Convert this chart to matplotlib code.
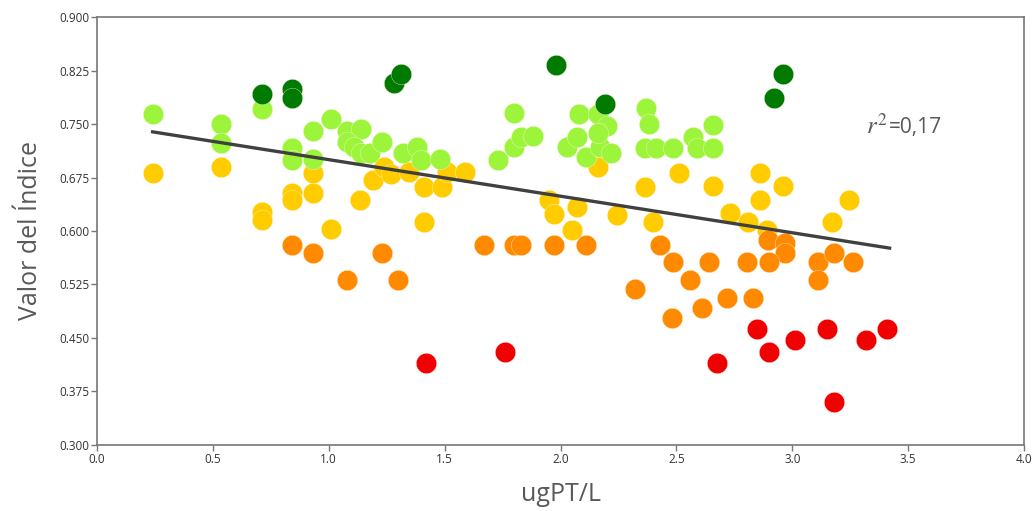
import numpy as np
import matplotlib.pyplot as plt

# datos (ugPT/L vs valor del indice)
x_verde_osc = [0.71, 0.84, 0.84, 1.28, 1.31, 1.98, 2.19, 2.96, 2.92]
y_verde_osc = [0.792, 0.799, 0.786, 0.807, 0.820, 0.833, 0.778, 0.820, 0.786]

x_verde = [0.24, 0.535, 0.535, 0.71, 0.84, 0.84, 0.93, 0.93, 1.01, 1.08, 1.14, 1.08,
           1.11, 1.14, 1.18, 1.23, 1.32, 1.38, 1.40, 1.48, 1.73, 1.80, 1.80, 1.83,
           1.88, 2.03, 2.07, 2.08, 2.16, 2.11, 2.17, 2.20, 2.22, 2.16, 2.37, 2.38,
           2.365, 2.41, 2.485, 2.57, 2.59, 2.66, 2.66]
y_verde = [0.764, 0.750, 0.723, 0.771, 0.716, 0.700, 0.740, 0.701, 0.757, 0.740, 0.743, 0.725,
           0.718, 0.709, 0.709, 0.725, 0.709, 0.718, 0.700, 0.701, 0.700, 0.765, 0.718, 0.732,
           0.733, 0.718, 0.732, 0.764, 0.764, 0.704, 0.718, 0.747, 0.709, 0.737, 0.772, 0.750,
           0.716, 0.716, 0.716, 0.732, 0.716, 0.749, 0.716]

x_amarillo = [0.24, 0.535, 0.71, 0.71, 0.84, 0.84, 0.93, 0.93, 1.01, 1.135, 1.19, 1.24,
              1.27, 1.345, 1.41, 1.49, 1.51, 1.59, 1.41, 1.95, 1.97, 2.07, 2.05, 2.16,
              2.245, 2.365, 2.40, 2.51, 2.66, 2.86, 2.96, 2.86, 2.73, 2.81, 2.89, 3.17, 3.245]
y_amarillo = [0.681, 0.690, 0.627, 0.615, 0.653, 0.643, 0.681, 0.653, 0.603, 0.643, 0.672, 0.690,
              0.680, 0.683, 0.662, 0.662, 0.683, 0.683, 0.613, 0.643, 0.624, 0.634, 0.601, 0.690,
              0.622, 0.662, 0.613, 0.681, 0.663, 0.681, 0.663, 0.643, 0.625, 0.613, 0.601, 0.613, 0.643]

x_naranja = [0.84, 0.93, 1.08, 1.23, 1.30, 1.67, 1.80, 1.83, 1.97, 2.11, 2.32, 2.43, 2.485,
             2.56, 2.64, 2.48, 2.61, 2.72, 2.83, 2.805, 2.895, 2.97, 2.97, 2.90, 3.11, 3.11,
             3.18, 3.26]
y_naranja = [0.580, 0.569, 0.531, 0.569, 0.531, 0.580, 0.580, 0.580, 0.580, 0.580, 0.519, 0.580, 0.557,
             0.531, 0.557, 0.478, 0.492, 0.506, 0.506, 0.557, 0.587, 0.583, 0.569, 0.557, 0.557, 0.531,
             0.569, 0.557]

x_rojo = [1.42, 1.76, 2.675, 2.85, 2.90, 3.01, 3.15, 3.18, 3.32, 3.41]
y_rojo = [0.415, 0.430, 0.415, 0.463, 0.430, 0.447, 0.463, 0.360, 0.447, 0.463]

# recta de tendencia (extremos leidos)
x_tend = [0.24, 3.42]
y_tend = [0.739, 0.576]

plt.rcParams['font.family'] = ['Open Sans', 'DejaVu Sans']
plt.rcParams['mathtext.fontset'] = 'stix'

fig = plt.figure(figsize=(10.33, 5.11), dpi=100)
ax = fig.add_axes([0.0939, 0.1292, 0.8974, 0.8375])

s = 215
borde = dict(edgecolors='#fff8e8', linewidths=0.25)
ax.scatter(x_amarillo, y_amarillo, s=s, color='#ffcc00', zorder=2, **borde)
ax.scatter(x_naranja, y_naranja, s=s, color='#ff8a00', zorder=3, **borde)
ax.scatter(x_rojo, y_rojo, s=s, color='#f00000', zorder=3, **borde)
ax.scatter(x_verde, y_verde, s=s, color='#9cf53a', zorder=4, **borde)
ax.scatter(x_verde_osc, y_verde_osc, s=s, color='#007a00', zorder=5, **borde)
ax.plot(x_tend, y_tend, color='#404040', lw=2.4, zorder=6)

ax.set_xlim(0, 4.0)
ax.set_ylim(0.3, 0.9)
ax.set_xticks(np.arange(0, 4.01, 0.5))
ax.set_yticks(np.arange(0.3, 0.901, 0.075))
ax.set_xticklabels(["%.1f" % v for v in np.arange(0, 4.01, 0.5)])
ax.set_yticklabels(["%.3f" % v for v in np.arange(0.3, 0.901, 0.075)])
ax.tick_params(labelsize=8.5, length=4, width=1, color='#777777', labelcolor='#333333', pad=1.5)
for sp in ax.spines.values():
    sp.set_color('#777777')
    sp.set_linewidth(1.2)

ax.set_xlabel("ugPT/L", fontsize=18, color='#595959', labelpad=12)
ax.set_ylabel("Valor del Índice", fontsize=18, color='#595959', labelpad=12)

ax.text(3.32, 0.745, r'$r^{2}$', fontsize=18, color='#595959', va='center')
ax.text(3.415, 0.745, '=0,17', fontsize=15, color='#595959', va='center')

fig.savefig("out.png", dpi=100)
